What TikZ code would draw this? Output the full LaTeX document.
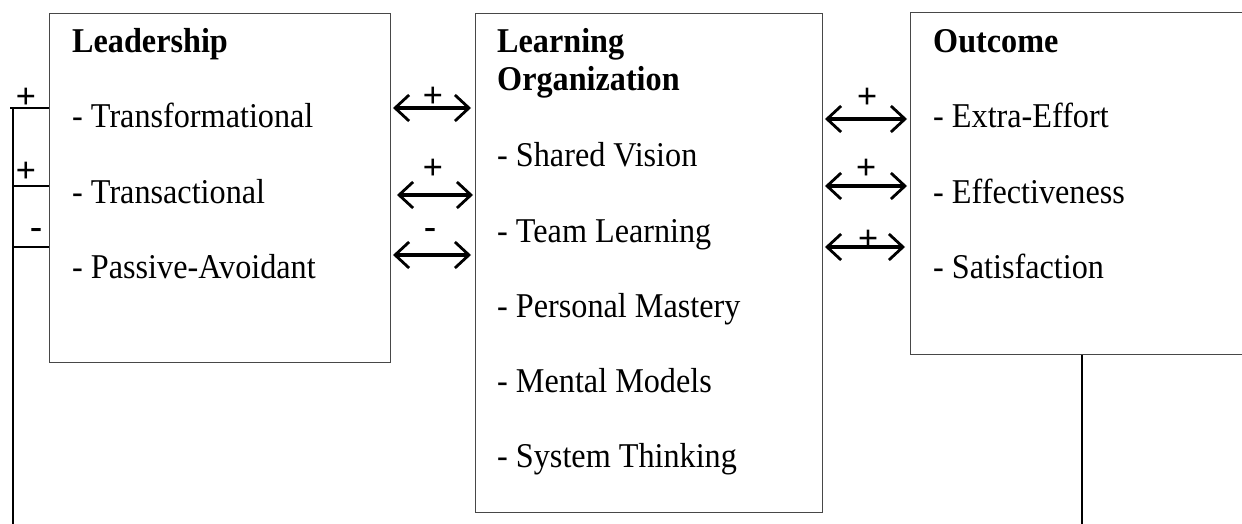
\documentclass[tikz,border=0pt]{standalone}
\usepackage{fontspec}
\setmainfont{Liberation Serif}
\usetikzlibrary{arrows.meta}
\newcommand{\tallish}[1]{\scalebox{1}[1.08]{#1}}
\begin{document}
\begin{tikzpicture}[x=1pt,y=-1pt,
  box/.style={draw=black!72,line width=1.4pt,fill=white,inner sep=0pt,anchor=north west},
  txt/.style={anchor=base west,inner sep=0pt,font=\fontsize{32.2}{38}\selectfont},
  head/.style={txt,font=\fontsize{32.2}{38}\selectfont\bfseries},
  sgn/.style={inner sep=0pt,font=\fontsize{36}{38}\selectfont\bfseries},
  biarrow/.style={line width=3.2pt,{Straight Barb[length=14pt,width=26pt,line width=2.8pt]}-{Straight Barb[length=14pt,width=26pt,line width=2.8pt]}},
  link/.style={line width=2pt,black}]
\useasboundingbox (0,0) rectangle (1242,524);
\clip (0,0) rectangle (1242,524);

% boxes
\node[box,minimum width=341pt,minimum height=349pt] (lead) at (49,13) {};
\node[box,minimum width=347pt,minimum height=499pt] (learn) at (475,13) {};
\node[box,minimum width=360pt,minimum height=342pt] (outc) at (910,12) {};

% Leadership texts
\node[head] (leadh) at (72,53) {\tallish{Leadership}};
\node[txt] (l1) at (72,128) {\tallish{- Transformational}};
\node[txt] (l2) at (72,203) {\tallish{- Transactional}};
\node[txt] (l3) at (72,278) {\tallish{- Passive-Avoidant}};

% Learning organization texts
\node[head] (learnh1) at (497,53) {\tallish{Learning}};
\node[head] (learnh2) at (497,91) {\tallish{Organization}};
\node[txt] (m1) at (497,167) {\tallish{- Shared Vision}};
\node[txt] (m2) at (497,242) {\tallish{- Team Learning}};
\node[txt] (m3) at (497,317) {\tallish{- Personal Mastery}};
\node[txt] (m4) at (497,392) {\tallish{- Mental Models}};
\node[txt] (m5) at (497,467) {\tallish{- System Thinking}};

% Outcome texts
\node[head] (outh) at (933,53) {\tallish{Outcome}};
\node[txt] (o1) at (933,128) {\tallish{- Extra-Effort}};
\node[txt] (o2) at (933,203) {\tallish{- Effectiveness}};
\node[txt] (o3) at (933,278) {\tallish{- Satisfaction}};

% arrows between Leadership and Learning Organization
\coordinate (a1l) at (393,108); \coordinate (a1r) at (471,108);
\coordinate (a2l) at (397,195); \coordinate (a2r) at (473,195);
\coordinate (a3l) at (393,255); \coordinate (a3r) at (471,255);
\draw[biarrow] (a1l) -- (a1r);
\draw[biarrow] (a2l) -- (a2r);
\draw[biarrow] (a3l) -- (a3r);
\node[sgn] (s1) at (433,97) {+};
\node[sgn] (s2) at (433,169) {+};
\node[sgn] (s3) at (430,233) {-};

% arrows between Learning Organization and Outcome
\coordinate (b1l) at (825,119); \coordinate (b1r) at (907,119);
\coordinate (b2l) at (825,186); \coordinate (b2r) at (907,186);
\coordinate (b3l) at (825,247); \coordinate (b3r) at (905,247);
\draw[biarrow] (b1l) -- (b1r);
\draw[biarrow] (b2l) -- (b2r);
\draw[biarrow] (b3l) -- (b3r);
\node[sgn] (t1) at (867,98) {+};
\node[sgn] (t2) at (866,169) {+};
\node[sgn] (t3) at (868,240) {+};

% left feedback line
\coordinate (fb1) at (13,108);
\coordinate (fb2) at (13,186);
\coordinate (fb3) at (13,247);
\coordinate (fbend) at (13,530);
\draw[link] (10,108) -- (lead.west |- fb1);
\draw[link] (fb2) -- (lead.west |- fb2);
\draw[link] (fb3) -- (lead.west |- fb3);
\draw[link] (fb1) -- (fbend);
\node[sgn] (f1) at (26,98) {+};
\node[sgn] (f2) at (26,172) {+};
\node[sgn] (f3) at (36,233) {-};

% right line from Outcome
\coordinate (rend) at (1082,530);
\draw[link] (outc.south west -| rend) -- (rend);
\end{tikzpicture}
\end{document}
